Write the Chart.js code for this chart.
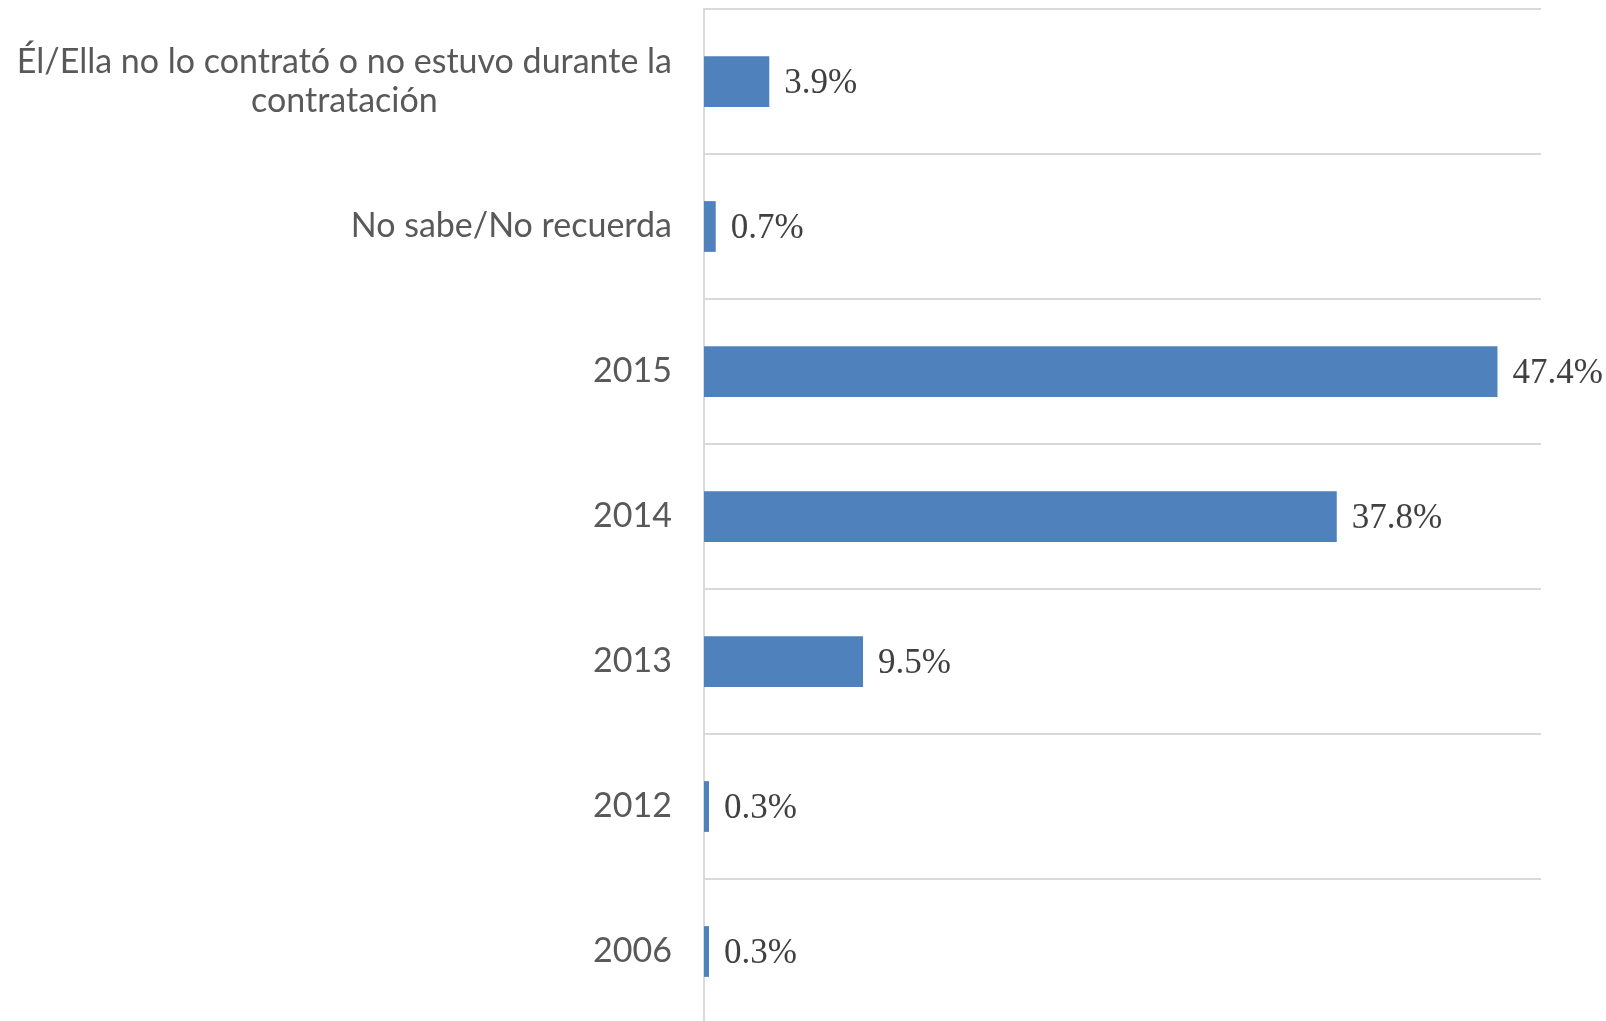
<!DOCTYPE html>
<html>
<head>
<meta charset="utf-8">
<script src="https://cdn.jsdelivr.net/npm/chart.js@4.4.1/dist/chart.umd.min.js"></script>
<style>
  html, body { margin: 0; background: #fff; overflow: hidden; }
  #wrap { width: 1606px; height: 1024px; position: relative; }
</style>
</head>
<body>
<div id="wrap"><canvas id="chart"></canvas></div>
<script>
// categories (top to bottom) and their values in %
const categories = [
  ['Él/Ella no lo contrató o no estuvo durante la', 'contratación'],
  ['No sabe/No recuerda'],
  ['2015'],
  ['2014'],
  ['2013'],
  ['2012'],
  ['2006']
];
const values = [3.9, 0.7, 47.4, 37.8, 9.5, 0.3, 0.3];
const valueLabels = ['3.9%', '0.7%', '47.4%', '37.8%', '9.5%', '0.3%', '0.3%'];

const barColor = '#4f81bd';
const gridColor = '#d9d9d9';

// draws the category labels: right aligned block, lines centred on each other
const categoryLabels = {
  id: 'categoryLabels',
  afterDraw(chart) {
    const ctx = chart.ctx;
    const yScale = chart.scales.y;
    const right = chart.chartArea.left - 32;
    const lineH = 39;
    ctx.save();
    ctx.font = '34px Lato';
    ctx.fillStyle = '#595959';
    ctx.textAlign = 'center';
    ctx.textBaseline = 'middle';
    categories.forEach((lines, i) => {
      const y = yScale.getPixelForValue(i);
      const w = Math.max(...lines.map(l => ctx.measureText(l).width));
      const cx = right - w / 2;
      const y0 = y - (lines.length - 1) * lineH / 2;
      lines.forEach((l, j) => ctx.fillText(l, cx, y0 + j * lineH));
    });
    ctx.restore();
  }
};

// value labels to the right of each bar
const valueText = {
  id: 'valueText',
  afterDatasetsDraw(chart) {
    const ctx = chart.ctx;
    const meta = chart.getDatasetMeta(0);
    ctx.save();
    ctx.font = '35px "Liberation Serif"';
    ctx.fillStyle = '#404040';
    ctx.textAlign = 'left';
    ctx.textBaseline = 'middle';
    meta.data.forEach((bar, i) => {
      ctx.fillText(valueLabels[i], bar.x + 15, bar.y + 2);
    });
    ctx.restore();
  }
};

new Chart(document.getElementById('chart'), {
  type: 'bar',
  data: {
    labels: categories.map(c => c.join(' ')),
    datasets: [{
      data: values,
      backgroundColor: barColor,
      borderWidth: 0,
      barPercentage: 0.7,
      categoryPercentage: 0.5
    }]
  },
  options: {
    indexAxis: 'y',
    responsive: true,
    maintainAspectRatio: false,
    animation: false,
    layout: { padding: { top: 9, right: 65, bottom: 0, left: 0 } },
    plugins: {
      legend: { display: false },
      tooltip: { enabled: false }
    },
    scales: {
      x: {
        display: false,
        min: 0,
        max: 50
      },
      y: {
        grid: { color: gridColor, lineWidth: 2, offset: true, drawTicks: false },
        border: { color: gridColor, width: 2 },
        ticks: { display: false },
        afterFit(scale) { scale.width = 704; }
      }
    }
  },
  plugins: [categoryLabels, valueText]
});
</script>
</body>
</html>
